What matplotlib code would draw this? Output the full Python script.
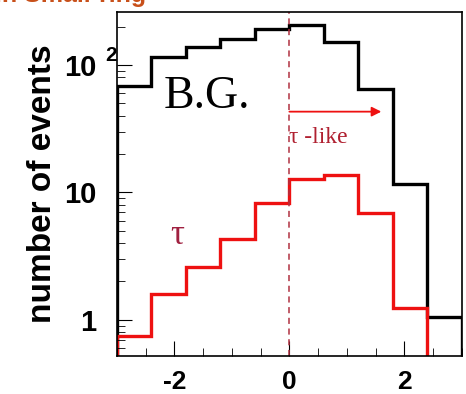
import numpy as np
import matplotlib
matplotlib.use("Agg")
import matplotlib.pyplot as plt
from matplotlib.ticker import MultipleLocator, LogLocator, NullFormatter, FixedLocator

plt.rcParams["axes.unicode_minus"] = False

# bin edges of the discriminant variable
edges = [-3.0, -2.4, -1.8, -1.2, -0.6, 0.0, 0.6, 1.2, 1.8, 2.4, 3.0]
# background (B.G.) counts per bin
bg = [68, 116, 138, 160, 192, 206, 151, 65, 11.7, 1.05]
# tau signal counts per bin (last bin empty)
tau = [0.75, 1.6, 2.6, 4.3, 8.2, 12.7, 13.8, 6.9, 1.24, 0.01]

xticks = [-2, 0, 2]
yticks = [1, 10, 100]
ylabels = ["1", "10", "10"]

fig = plt.figure(figsize=(4.66, 3.94), dpi=100)
ax = fig.add_axes([0.251, 0.0964, 0.74, 0.873])

ax.stairs(bg, edges, color="black", linewidth=2.4)
ax.stairs(tau, edges, color="#ee1111", linewidth=2.4)

ax.set_yscale("log")
ax.set_xlim(-3, 3)
ax.set_ylim(0.52, 260)

# cut line and tau-like region
ax.axvline(0, color="#b03040", linestyle=(0, (4, 3)), linewidth=1.1)
ax.annotate("", xy=(1.6, 43), xytext=(0, 43),
            arrowprops=dict(arrowstyle="-|>", color="#ee1111", lw=1.3,
                            mutation_scale=14, shrinkA=0, shrinkB=0))
ax.text(0.0, 27, "τ -like", color="#b02030", fontsize=17,
        family="Liberation Serif", ha="left", va="center")
ax.text(-2.18, 56, "B.G.", color="black", fontsize=33,
        family="Liberation Serif", ha="left", va="center")
ax.text(-1.95, 4.6, "τ", color="#a02040", fontsize=25,
        family="Liberation Serif", ha="center", va="center")

# ticks
ax.xaxis.set_major_locator(FixedLocator(xticks))
ax.xaxis.set_minor_locator(MultipleLocator(0.5))
ax.set_xticklabels([str(t) for t in xticks])
ax.yaxis.set_major_locator(FixedLocator(yticks))
ax.yaxis.set_minor_locator(LogLocator(base=10, subs=np.arange(2, 10)))
ax.yaxis.set_minor_formatter(NullFormatter())
ax.set_yticklabels(ylabels)
ax.tick_params(which="major", direction="in", length=11, width=0.8,
               top=False, right=False)
ax.tick_params(which="minor", direction="in", length=6, width=0.6,
               top=False, right=False)
ax.tick_params(axis="x", pad=10, labelsize=19)
ax.tick_params(axis="y", pad=15, labelsize=21)
for lab in ax.get_xticklabels() + ax.get_yticklabels():
    lab.set_fontweight("bold")
    lab.set_family("Liberation Sans")
ax.text(0.0, 100, "2", transform=ax.get_yaxis_transform(), fontsize=15,
        fontweight="bold", family="Liberation Sans", ha="right", va="bottom")

for s in ax.spines.values():
    s.set_linewidth(1.2)

ax.set_ylabel("number of events", fontsize=24, fontweight="bold",
              family="Liberation Sans", labelpad=4)

# clipped title at top edge
fig.text(-0.01, 0.994, "in Small-ring", color="#c8501a", fontsize=18,
         fontweight="bold", family="Liberation Sans", ha="left", va="baseline")

fig.savefig("out.png", dpi=100)
